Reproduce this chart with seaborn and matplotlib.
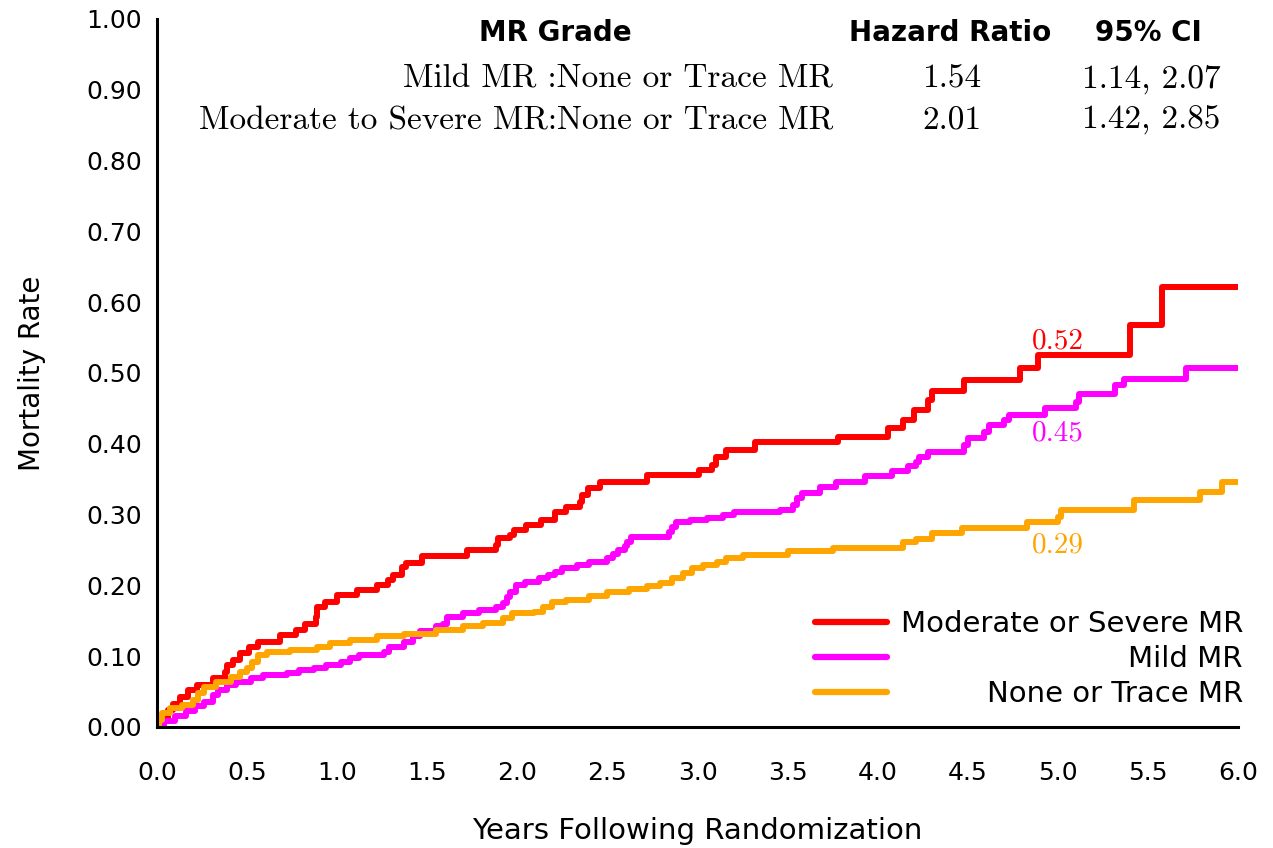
import numpy as np
import pandas as pd
import matplotlib
matplotlib.use("Agg")
import matplotlib.pyplot as plt
import seaborn as sns

# ---------------- data ----------------
series_names = ["Moderate or Severe MR", "Mild MR", "None or Trace MR"]
series_colors = ["#FF0000", "#FF00FF", "#FFA500"]

severe_t = [0.00, 0.03, 0.06, 0.09, 0.13, 0.17, 0.22, 0.31, 0.38, 0.39, 0.42, 0.46, 0.51,
            0.56, 0.68, 0.77, 0.82, 0.88, 0.89, 0.93, 1.00, 1.11, 1.22, 1.28, 1.31, 1.36,
            1.38, 1.47, 1.72, 1.88, 1.89, 1.96, 1.98, 2.05, 2.13, 2.21, 2.27, 2.35, 2.36,
            2.39, 2.46, 2.72, 3.01, 3.08, 3.10, 3.16, 3.32, 3.78, 4.06, 4.14, 4.20, 4.28,
            4.30, 4.48, 4.79, 4.89, 5.40, 5.58, 6.00]
severe_y = [0.000, 0.012, 0.024, 0.033, 0.043, 0.052, 0.059, 0.069, 0.078, 0.088, 0.095,
            0.104, 0.113, 0.120, 0.130, 0.137, 0.146, 0.156, 0.170, 0.177, 0.186, 0.193,
            0.200, 0.208, 0.215, 0.226, 0.231, 0.241, 0.250, 0.257, 0.267, 0.271, 0.278,
            0.285, 0.292, 0.304, 0.311, 0.318, 0.328, 0.337, 0.346, 0.356, 0.363, 0.370,
            0.382, 0.391, 0.402, 0.410, 0.422, 0.434, 0.448, 0.462, 0.474, 0.490, 0.507,
            0.525, 0.568, 0.622, 0.622]

mild_t = [0.00, 0.04, 0.10, 0.16, 0.21, 0.26, 0.31, 0.34, 0.39, 0.44, 0.52, 0.59, 0.72,
          0.79, 0.87, 0.94, 1.02, 1.07, 1.12, 1.26, 1.29, 1.37, 1.42, 1.46, 1.55, 1.59,
          1.61, 1.70, 1.79, 1.88, 1.92, 1.94, 1.96, 1.99, 2.04, 2.12, 2.17, 2.21, 2.25,
          2.33, 2.40, 2.50, 2.53, 2.56, 2.60, 2.61, 2.63, 2.84, 2.86, 2.88, 2.96, 3.05,
          3.14, 3.20, 3.46, 3.53, 3.55, 3.58, 3.68, 3.77, 3.93, 4.08, 4.17, 4.21, 4.23,
          4.28, 4.48, 4.50, 4.59, 4.62, 4.70, 4.73, 4.93, 5.10, 5.12, 5.32, 5.37, 5.71,
          6.00]
mild_y = [0.000, 0.008, 0.015, 0.022, 0.029, 0.036, 0.045, 0.052, 0.059, 0.064, 0.069,
          0.073, 0.076, 0.081, 0.084, 0.088, 0.092, 0.097, 0.102, 0.106, 0.113, 0.120,
          0.128, 0.135, 0.142, 0.146, 0.156, 0.161, 0.165, 0.170, 0.175, 0.184, 0.191,
          0.200, 0.205, 0.210, 0.215, 0.219, 0.224, 0.229, 0.233, 0.238, 0.245, 0.250,
          0.255, 0.262, 0.269, 0.276, 0.283, 0.290, 0.292, 0.295, 0.299, 0.304, 0.306,
          0.314, 0.323, 0.330, 0.339, 0.346, 0.354, 0.361, 0.368, 0.375, 0.382, 0.389,
          0.398, 0.408, 0.417, 0.427, 0.434, 0.441, 0.450, 0.459, 0.471, 0.483, 0.492,
          0.507, 0.507]

none_t = [0.00, 0.01, 0.03, 0.07, 0.14, 0.20, 0.23, 0.26, 0.33, 0.41, 0.46, 0.50, 0.53,
          0.56, 0.61, 0.74, 0.89, 0.96, 1.07, 1.22, 1.37, 1.55, 1.70, 1.81, 1.92, 1.97,
          2.09, 2.14, 2.19, 2.27, 2.40, 2.50, 2.62, 2.72, 2.79, 2.86, 2.92, 2.97, 3.03,
          3.11, 3.16, 3.25, 3.50, 3.75, 4.14, 4.21, 4.30, 4.47, 4.83, 5.00, 5.02, 5.42,
          5.79, 5.91, 6.00]
none_y = [0.000, 0.010, 0.020, 0.027, 0.031, 0.038, 0.048, 0.057, 0.064, 0.071, 0.078,
          0.083, 0.092, 0.102, 0.106, 0.109, 0.113, 0.118, 0.123, 0.128, 0.132, 0.137,
          0.142, 0.147, 0.154, 0.161, 0.163, 0.170, 0.177, 0.180, 0.185, 0.190, 0.195,
          0.199, 0.204, 0.210, 0.217, 0.224, 0.229, 0.233, 0.238, 0.243, 0.248, 0.253,
          0.262, 0.266, 0.274, 0.281, 0.289, 0.296, 0.307, 0.321, 0.332, 0.346, 0.346]

end_labels = ["0.52", "0.45", "0.29"]

table_header = ["MR Grade", "Hazard Ratio", "95% CI"]
table_comparisons = ["Mild MR :None or Trace MR", "Moderate to Severe MR:None or Trace MR"]
table_hr = ["1.54", "2.01"]
table_ci = ["1.14, 2.07", "1.42, 2.85"]

x_ticks = [0.0, 0.5, 1.0, 1.5, 2.0, 2.5, 3.0, 3.5, 4.0, 4.5, 5.0, 5.5, 6.0]
y_ticks = [0.0, 0.1, 0.2, 0.3, 0.4, 0.5, 0.6, 0.7, 0.8, 0.9, 1.0]

# ---------------- figure ----------------
sns.set_style("white")
plt.rcParams["font.family"] = ["DejaVu Sans"]
plt.rcParams["text.color"] = "black"
plt.rcParams["axes.labelcolor"] = "black"

W, H = 1273, 848
fig = plt.figure(figsize=(W / 100, H / 100), dpi=100)
ax = fig.add_axes([157 / W, 1 - 727 / H, (1238 - 157) / W, (727 - 19) / H])

all_t = [severe_t, mild_t, none_t]
all_y = [severe_y, mild_y, none_y]
for name, col, t, y in zip(series_names, series_colors, all_t, all_y):
    df = pd.DataFrame({"t": t, "y": y})
    sns.lineplot(data=df, x="t", y="y", ax=ax, color=col, linewidth=4.3,
                 drawstyle="steps-post", label=name, estimator=None)

ax.set_xlim(0, 6.0)
ax.set_ylim(0, 1.0)
ax.set_xticks(x_ticks)
ax.set_yticks(y_ticks)
ax.set_xticklabels([f"{v:.1f}" for v in x_ticks])
ax.set_yticklabels([f"{v:.2f}" for v in y_ticks])
sns.despine(ax=ax)
for s in ["left", "bottom"]:
    ax.spines[s].set_linewidth(2.2)
    ax.spines[s].set_color("black")
ax.tick_params(axis="x", direction="out", length=8.5, width=2, pad=16,
               labelsize=18, colors="black")
ax.tick_params(axis="y", direction="out", length=6, width=2, pad=5,
               labelsize=18, colors="black")
ax.set_xlabel("Years Following Randomization", fontsize=21, labelpad=23)
ax.set_ylabel("Mortality Rate", fontsize=20, labelpad=29)

# end-of-curve labels
label_y = [0.535, 0.405, 0.246]
for txt, col, yy in zip(end_labels, series_colors, label_y):
    ax.text(5.0, yy, txt, color=col, fontsize=21, family="cmr10",
            ha="center", va="baseline")

# header/table text
def fx(px):
    return px / W

def fy(py):
    return 1 - py / H

hdr_x = [555, 950, 1148]
for txt, x in zip(table_header, hdr_x):
    fig.text(fx(x), fy(41), txt, fontsize=20, fontweight="bold",
             ha="center", va="baseline")
row_y = [88, 129]
for comp, hr, ci, yy in zip(table_comparisons, table_hr, table_ci, row_y):
    fig.text(fx(833), fy(yy), comp, family="cmr10", fontsize=24, ha="right", va="baseline")
    fig.text(fx(952), fy(yy), hr, family="cmr10", fontsize=24, ha="center", va="baseline")
    fig.text(fx(1151), fy(yy), ci, family="cmr10", fontsize=24, ha="center", va="baseline")

# legend
leg = ax.legend(loc="center right", bbox_to_anchor=(1243 / W, fy(659)),
                bbox_transform=fig.transFigure, frameon=False, fontsize=21,
                handlelength=2.47, handletextpad=0.45, labelspacing=0.25,
                borderpad=0, borderaxespad=0)
for ln in leg.get_lines():
    ln.set_linewidth(4.5)
fig.canvas.draw()
r = fig.canvas.get_renderer()
texts = leg.get_texts()
widths = [t.get_window_extent(r).width for t in texts]
wmax = max(widths)
for t, w in zip(texts, widths):
    t.set_position((wmax - w, 0))

fig.savefig("out.png", dpi=100)
